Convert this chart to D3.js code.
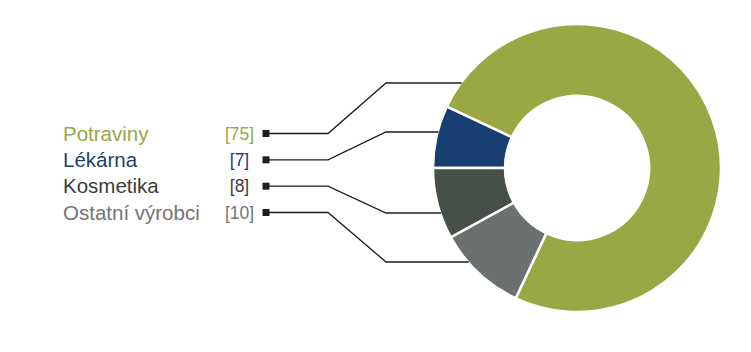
<!DOCTYPE html>
<html>
<head>
<meta charset="utf-8">
<script src="https://cdn.jsdelivr.net/npm/d3@7"></script>
<style>
  body { margin: 0; background: #fff; }
</style>
</head>
<body>
<div id="chart"></div>
<script>
// data
const categories = [`Potraviny`, `Lékárna`, `Kosmetika`, `Ostatní výrobci`];
const values = [75, 7, 8, 10];
const valueLabels = [`[75]`, `[7]`, `[8]`, `[10]`];
// order of slices clockwise from 9 o'clock
const drawOrder = [`Lékárna`, `Potraviny`, `Ostatní výrobci`, `Kosmetika`];

// Constant
const width = 751;
const height = 352;
const cx = 577;
const cy = 168;
const outerR = 144;
const innerR = 72;
const fontFamily = `"Liberation Sans", Arial, sans-serif`;
const nameSize = `20.5px`;
const valueSize = `17.5px`;
const lineColor = `#1e1e1e`;

const sliceColor = {
    "Potraviny" : `#99a845`,
    "Lékárna" : `#173e70`,
    "Kosmetika" : `#464f48`,
    "Ostatní výrobci" : `#6b716e`
};
const textColor = {
    "Potraviny" : `#96a64a`,
    "Lékárna" : `#1c3f70`,
    "Kosmetika" : `#3c3c3c`,
    "Ostatní výrobci" : `#747474`
};

// legend layout
const legendX = 63;
const valueX = 239.5;
const squareX = 266;
const rowY = d3.scalePoint().domain(categories).range([133.5, 212.5]);
const elbowX1 = 328;
const elbowX2 = 386;
// where each leader meets the ring, relative to centre
const leaderDy = [-85, -36, 45, 94];

const data = categories.map((c, i) => ({name: c, value: values[i], label: valueLabels[i], dy: leaderDy[i]}));

const svg = d3.select(`#chart`)
    .append(`svg`)
        .attr(`width`, width)
        .attr(`height`, height);

const pie = d3.pie()
    .sort((a, b) => drawOrder.indexOf(a.name) - drawOrder.indexOf(b.name))
    .value(d => d.value)
    .startAngle(Math.PI * 1.5)
    .endAngle(Math.PI * 3.5);

const arc = d3.arc().innerRadius(innerR).outerRadius(outerR);

svg.append(`g`)
    .attr(`transform`, `translate(${cx},${cy})`)
    .selectAll(`path`)
    .data(pie(data))
    .join(`path`)
        .attr(`d`, arc)
        .attr(`fill`, d => sliceColor[d.data.name])
        .attr(`stroke`, `#fff`)
        .attr(`stroke-width`, 2.5);

// leader lines
svg.append(`g`)
    .selectAll(`polyline`)
    .data(data)
    .join(`polyline`)
        .attr(`fill`, `none`)
        .attr(`stroke`, lineColor)
        .attr(`stroke-width`, 1.3)
        .attr(`points`, d => {
            const y0 = rowY(d.name);
            const y1 = cy + d.dy;
            const x1 = cx - Math.sqrt(outerR * outerR - d.dy * d.dy) + 1;
            return [[squareX, y0], [elbowX1, y0], [elbowX2, y1], [x1, y1]].join(` `);
        });

svg.append(`g`)
    .selectAll(`rect`)
    .data(data)
    .join(`rect`)
        .attr(`x`, squareX - 3.5)
        .attr(`y`, d => rowY(d.name) - 3.5)
        .attr(`width`, 7)
        .attr(`height`, 7)
        .attr(`fill`, lineColor);

svg.append(`g`)
    .selectAll(`text`)
    .data(data)
    .join(`text`)
        .attr(`x`, legendX)
        .attr(`y`, d => rowY(d.name))
        .attr(`dy`, `0.35em`)
        .style(`font-size`, nameSize)
        .style(`font-family`, fontFamily)
        .attr(`fill`, d => textColor[d.name])
        .text(d => d.name);

svg.append(`g`)
    .selectAll(`text`)
    .data(data)
    .join(`text`)
        .attr(`x`, valueX)
        .attr(`y`, d => rowY(d.name))
        .attr(`dy`, `0.35em`)
        .attr(`text-anchor`, `middle`)
        .style(`font-size`, valueSize)
        .style(`font-family`, fontFamily)
        .attr(`fill`, d => textColor[d.name])
        .text(d => d.label);
</script>
</body>
</html>
